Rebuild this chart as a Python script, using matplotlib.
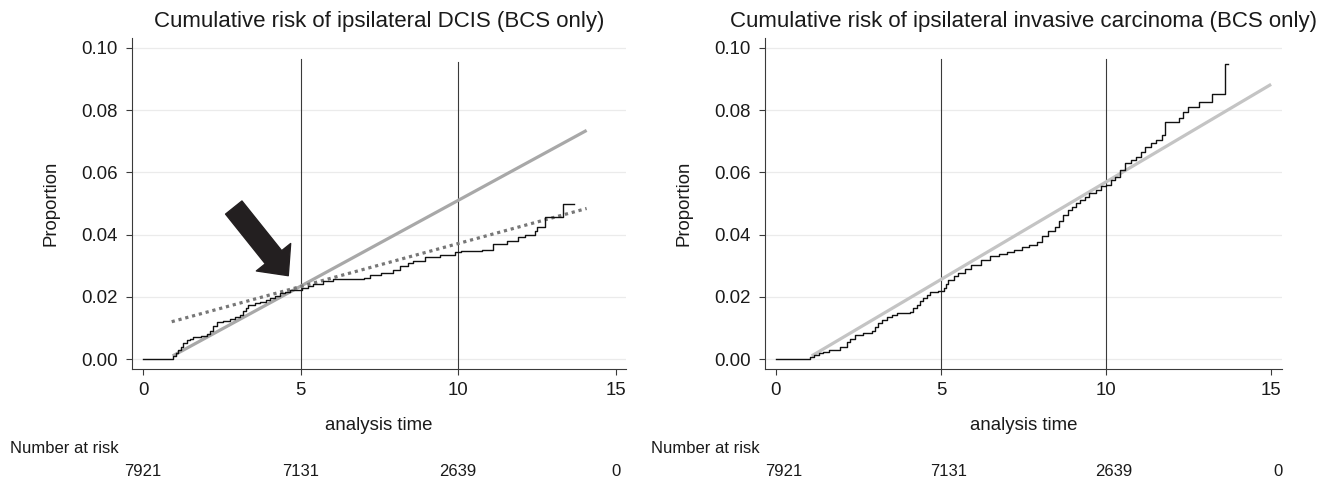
import matplotlib
matplotlib.use("Agg")
from matplotlib import pyplot as plt
from matplotlib.patches import FancyArrowPatch, ArrowStyle
import matplotlib.transforms as mtransforms

plt.rcParams['font.family'] = ['Liberation Sans', 'DejaVu Sans']

# Kaplan-Meier style cumulative risk, DCIS (left panel)
dcis_time = [0.00, 0.96, 1.05, 1.12, 1.20, 1.28, 1.39, 1.50, 1.60, 1.85,
             2.02, 2.12, 2.22, 2.34, 2.55, 2.76, 2.92, 3.08, 3.18, 3.26,
             3.34, 3.55, 3.71, 3.90, 4.03, 4.18, 4.35, 4.50, 4.67, 5.05,
             5.25, 5.41, 5.70, 6.04, 7.00, 7.20, 7.55, 7.95, 8.16, 8.40,
             8.58, 8.95, 9.43, 9.90, 10.10, 10.75, 11.12, 11.55, 11.90, 12.13,
             12.44, 12.50, 12.76, 13.34, 13.69]
dcis_risk = [0.0000, 0.0010, 0.0020, 0.0030, 0.0040, 0.0050, 0.0061, 0.0066, 0.0070, 0.0074,
             0.0079, 0.0090, 0.0105, 0.0118, 0.0123, 0.0129, 0.0135, 0.0143, 0.0155, 0.0165,
             0.0175, 0.0180, 0.0184, 0.0190, 0.0196, 0.0203, 0.0211, 0.0217, 0.0222, 0.0227,
             0.0235, 0.0242, 0.0250, 0.0256, 0.0260, 0.0270, 0.0276, 0.0286, 0.0300, 0.0308,
             0.0316, 0.0329, 0.0334, 0.0345, 0.0348, 0.0352, 0.0369, 0.0380, 0.0391, 0.0400,
             0.0413, 0.0425, 0.0455, 0.0497, 0.0497]

# invasive carcinoma (right panel)
inv_time = [0.00, 1.03, 1.15, 1.30, 1.43, 1.60, 1.94, 2.14, 2.25, 2.39,
            2.65, 2.90, 3.00, 3.10, 3.22, 3.35, 3.50, 3.66, 4.06, 4.16,
            4.26, 4.36, 4.46, 4.56, 4.67, 4.92, 5.09, 5.15, 5.22, 5.38,
            5.52, 5.72, 5.90, 6.20, 6.49, 6.75, 7.00, 7.20, 7.45, 7.65,
            7.90, 8.05, 8.25, 8.44, 8.58, 8.70, 8.85, 8.96, 9.10, 9.22,
            9.35, 9.47, 9.70, 9.85, 10.00, 10.15, 10.26, 10.42, 10.58, 10.75,
            10.90, 11.05, 11.17, 11.35, 11.50, 11.70, 11.80, 12.20, 12.33, 12.49,
            12.81, 13.20, 13.59, 13.69]
inv_risk = [0.0000, 0.0005, 0.0012, 0.0018, 0.0024, 0.0030, 0.0040, 0.0056, 0.0066, 0.0077,
            0.0083, 0.0090, 0.0102, 0.0115, 0.0126, 0.0136, 0.0142, 0.0147, 0.0152, 0.0163,
            0.0174, 0.0185, 0.0195, 0.0206, 0.0216, 0.0219, 0.0227, 0.0240, 0.0254, 0.0266,
            0.0276, 0.0290, 0.0302, 0.0318, 0.0330, 0.0338, 0.0343, 0.0352, 0.0360, 0.0366,
            0.0375, 0.0395, 0.0410, 0.0425, 0.0445, 0.0463, 0.0478, 0.0490, 0.0500, 0.0511,
            0.0522, 0.0533, 0.0545, 0.0555, 0.0560, 0.0574, 0.0586, 0.0607, 0.0629, 0.0640,
            0.0650, 0.0667, 0.0683, 0.0694, 0.0704, 0.0720, 0.0763, 0.0774, 0.0795, 0.0809,
            0.0827, 0.0851, 0.0948, 0.0948]

# fitted lines (end points)
dcis_fit_x = [0.94, 14.08]
dcis_fit_y = [0.0010, 0.0735]
dcis_fit2_x = [0.91, 14.08]
dcis_fit2_y = [0.0120, 0.0484]
inv_fit_x = [1.08, 15.0]
inv_fit_y = [0.0010, 0.0883]

# reference lines at 5 and 10 years
ref_x = [5, 10]
dcis_ref_top = [0.0964, 0.0955]
inv_ref_top = [0.0964, 0.0964]

risk_times = [0, 5, 10, 15]
risk_counts = [7921, 7131, 2639, 0]

x_ticks = [0, 5, 10, 15]
y_ticks = [0.00, 0.02, 0.04, 0.06, 0.08, 0.10]

titles = ["Cumulative risk of ipsilateral DCIS (BCS only)",
          "Cumulative risk of ipsilateral invasive carcinoma (BCS only)"]

W, H = 1334, 484
fig = plt.figure(figsize=(W / 100, H / 100), dpi=100)
ax1 = fig.add_axes([132 / W, 1 - 369 / H, 494 / W, 331 / H])
ax2 = fig.add_axes([765 / W, 1 - 369 / H, 517 / W, 331 / H])

axis_col = "#3a3a3a"


def style_axes(ax, xmin, label_x, risk_label_x, risk_shift, title):
    ax.set_xlim(xmin, 15.33)
    ax.set_ylim(-0.0032, 0.1032)
    for s in ("top", "right"):
        ax.spines[s].set_visible(False)
    for s in ("left", "bottom"):
        ax.spines[s].set_color(axis_col)
        ax.spines[s].set_linewidth(0.8)
    ax.set_xticks(x_ticks)
    ax.set_yticks(y_ticks)
    ax.set_yticklabels(["%.2f" % v for v in y_ticks])
    ax.tick_params(direction="out", length=4.5, width=0.8, color=axis_col,
                   labelsize=13.4, labelcolor="#1a1a1a")
    ax.tick_params(axis="x", pad=5)
    ax.tick_params(axis="y", pad=6)
    ax.yaxis.grid(True, color="#ebebeb", linewidth=0.9)
    ax.set_axisbelow(True)
    ax.set_ylabel("Proportion", fontsize=13.4, color="#1a1a1a")
    ax.yaxis.set_label_coords(label_x, 0.5)
    ax.set_xlabel("analysis time", fontsize=13.4, color="#1a1a1a")
    ax.xaxis.set_label_coords(0.5, -0.145)
    ax.text(0.5, 1 + 16 / 331, title, transform=ax.transAxes, ha="center",
            va="center", fontsize=16, color="#1a1a1a")

    # number at risk table
    ax.text(risk_label_x, -0.239, "Number at risk", transform=ax.transAxes,
            ha="left", va="center", fontsize=12, color="#1a1a1a", clip_on=False)
    trans = mtransforms.blended_transform_factory(ax.transData, ax.transAxes)
    for t, n in zip(risk_times, risk_counts):
        ax.text(t + risk_shift, -0.311, str(n), transform=trans, ha="center",
                va="center", fontsize=12, color="#1a1a1a", clip_on=False)


# left panel
ax1.step(dcis_time, dcis_risk, where="post", color="#111111", linewidth=1.0, zorder=4)
ax1.plot(dcis_fit_x, dcis_fit_y, color="#a8a8a8", linewidth=2.3,
         solid_capstyle="butt", zorder=3)
ax1.plot(dcis_fit2_x, dcis_fit2_y, color="#777777", linewidth=2.3,
         linestyle=(0, (1, 1.2)), dash_capstyle="butt", zorder=3)
for x, top in zip(ref_x, dcis_ref_top):
    ax1.plot([x, x], [-0.0032, top], color=axis_col, linewidth=0.8, zorder=2)
arrow = FancyArrowPatch((2.88, 0.0487), (4.61, 0.0268),
                        arrowstyle=ArrowStyle.Simple(head_length=17, head_width=31.6,
                                                     tail_width=15.1),
                        mutation_scale=1, color="#231f20", shrinkA=0, shrinkB=0,
                        zorder=5)
ax1.add_patch(arrow)
style_axes(ax1, -0.35, -0.146, -0.246, 0.0, titles[0])

# right panel
ax2.step(inv_time, inv_risk, where="post", color="#111111", linewidth=1.0, zorder=4)
ax2.plot(inv_fit_x, inv_fit_y, color="#c4c4c4", linewidth=2.3,
         solid_capstyle="butt", zorder=3)
for x, top in zip(ref_x, inv_ref_top):
    ax2.plot([x, x], [-0.0032, top], color=axis_col, linewidth=0.8, zorder=2)
style_axes(ax2, -0.333, -0.140, -0.2205, 0.22, titles[1])

fig.savefig("out.png", dpi=100)
